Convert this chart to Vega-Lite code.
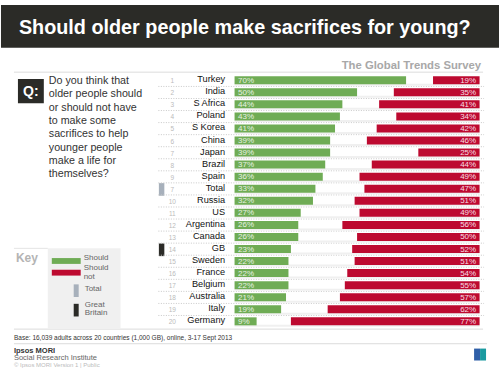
{"$schema":"https://vega.github.io/schema/vega-lite/v6.json","width":500,"height":375,"padding":0,"autosize":{"type":"fit","contains":"padding"},"background":"white","config":{"view":{"stroke":null},"axis":{"disable":true},"legend":{"disable":true},"text":{"font":"Liberation Sans"}},"datasets":{"rows":[
{"pos":1,"rank":"1","country":"Turkey","should":70,"unsure":11,"wouldNot":19},
{"pos":2,"rank":"2","country":"India","should":50,"unsure":15,"wouldNot":35},
{"pos":3,"rank":"3","country":"S Africa","should":44,"unsure":15,"wouldNot":41},
{"pos":4,"rank":"4","country":"Poland","should":43,"unsure":23,"wouldNot":34},
{"pos":5,"rank":"5","country":"S Korea","should":41,"unsure":17,"wouldNot":42},
{"pos":6,"rank":"6","country":"China","should":39,"unsure":15,"wouldNot":46},
{"pos":7,"rank":"7","country":"Japan","should":39,"unsure":36,"wouldNot":25},
{"pos":8,"rank":"8","country":"Brazil","should":37,"unsure":19,"wouldNot":44},
{"pos":9,"rank":"9","country":"Spain","should":36,"unsure":15,"wouldNot":49},
{"pos":10,"rank":"7","country":"Total","should":33,"unsure":20,"wouldNot":47},
{"pos":11,"rank":"10","country":"Russia","should":32,"unsure":17,"wouldNot":51},
{"pos":12,"rank":"11","country":"US","should":27,"unsure":24,"wouldNot":49},
{"pos":13,"rank":"12","country":"Argentina","should":26,"unsure":18,"wouldNot":56},
{"pos":14,"rank":"13","country":"Canada","should":26,"unsure":24,"wouldNot":50},
{"pos":15,"rank":"14","country":"GB","should":23,"unsure":25,"wouldNot":52},
{"pos":16,"rank":"15","country":"Sweden","should":22,"unsure":27,"wouldNot":51},
{"pos":17,"rank":"16","country":"France","should":22,"unsure":24,"wouldNot":54},
{"pos":18,"rank":"17","country":"Belgium","should":22,"unsure":23,"wouldNot":55},
{"pos":19,"rank":"18","country":"Australia","should":21,"unsure":22,"wouldNot":57},
{"pos":20,"rank":"19","country":"Italy","should":19,"unsure":19,"wouldNot":62},
{"pos":21,"rank":"20","country":"Germany","should":9,"unsure":14,"wouldNot":77}],
"one":[{}]},
"layer":[
{"data":{"name":"one"},"mark":{"type":"rect","color":"#2b2b27"},"encoding":{"x":{"datum":-95.33,"type":"quantitative","scale":{"domain":[-95.325,107.927],"nice":false,"zero":false}},"x2":{"datum":107.93},"y":{"datum":-5.24,"type":"quantitative","scale":{"domain":[-5.241,25.037],"nice":false,"zero":false,"reverse":true}},"y2":{"datum":-1.689}}},
{"data":{"name":"one"},"mark":{"type":"text","text":"Should older people make sacrifices for young?","align":"left","baseline":"middle","fontSize":19.8,"fontWeight":"bold","color":"#ffffff"},"encoding":{"x":{"datum":-88.01,"type":"quantitative"},"y":{"datum":-3.304,"type":"quantitative"}}},
{"data":{"name":"one"},"mark":{"type":"text","text":"The Global Trends Survey","align":"right","baseline":"middle","fontSize":11.3,"fontWeight":"bold","color":"#a8a8a8"},"encoding":{"x":{"datum":100.61,"type":"quantitative"},"y":{"datum":-0.155,"type":"quantitative"}}},
{"data":{"name":"one"},"mark":{"type":"rule","color":"#dcdcdc","strokeWidth":1},"encoding":{"x":{"datum":-90.04,"type":"quantitative"},"x2":{"datum":101.42},"y":{"datum":0.33,"type":"quantitative"}}},
{"data":{"name":"one"},"mark":{"type":"rule","color":"#dcdcdc","strokeWidth":1},"encoding":{"x":{"datum":-90.04,"type":"quantitative"},"x2":{"datum":101.42},"y":{"datum":21.646,"type":"quantitative"}}},
{"data":{"name":"one"},"mark":{"type":"rule","color":"#dcdcdc","strokeWidth":1},"encoding":{"x":{"datum":-90.04,"type":"quantitative"},"x2":{"datum":103.05},"y":{"datum":22.857,"type":"quantitative"}}},
{"data":{"name":"one"},"mark":{"type":"rect","color":"#2b2b27"},"encoding":{"x":{"datum":-88.41,"type":"quantitative"},"x2":{"datum":-77.85},"y":{"datum":0.895,"type":"quantitative"},"y2":{"datum":2.914}}},
{"data":{"name":"one"},"mark":{"type":"text","text":"Q:","align":"center","baseline":"middle","fontSize":14,"fontWeight":"bold","color":"#ffffff"},"encoding":{"x":{"datum":-83.13,"type":"quantitative"},"y":{"datum":1.95,"type":"quantitative"}}},
{"data":{"name":"one"},"mark":{"type":"text","text":"Do you think that\nolder people should\nor should not have\nto make some\nsacrifices to help\nyounger people\nmake a life for\nthemselves?","lineBreak":"\n","lineHeight":13.35,"align":"left","baseline":"top","fontSize":10.7,"color":"#333333","dy":-1},"encoding":{"x":{"datum":-75.81,"type":"quantitative"},"y":{"datum":0.734,"type":"quantitative"}}},
{"data":{"name":"one"},"mark":{"type":"rect","color":"#f0f0f0"},"encoding":{"x":{"datum":-76.22,"type":"quantitative"},"x2":{"datum":-46.54},"y":{"datum":14.944,"type":"quantitative"},"y2":{"datum":21.565}}},
{"data":{"name":"one"},"mark":{"type":"rule","color":"#e4e4e4","strokeWidth":1},"encoding":{"x":{"datum":-90.04,"type":"quantitative"},"x2":{"datum":-76.22},"y":{"datum":14.944,"type":"quantitative"}}},
{"data":{"name":"one"},"mark":{"type":"text","text":"Key","align":"left","baseline":"middle","fontSize":12,"fontWeight":"bold","color":"#b4b4b4"},"encoding":{"x":{"datum":-89.23,"type":"quantitative"},"y":{"datum":15.752,"type":"quantitative"}}},
{"data":{"name":"one"},"mark":{"type":"rect","color":"#6fac55"},"encoding":{"x":{"datum":-74.59,"type":"quantitative"},"x2":{"datum":-62.8},"y":{"datum":15.751,"type":"quantitative"},"y2":{"datum":16.236}}},
{"data":{"name":"one"},"mark":{"type":"rect","color":"#bd0a30"},"encoding":{"x":{"datum":-74.59,"type":"quantitative"},"x2":{"datum":-62.8},"y":{"datum":16.72,"type":"quantitative"},"y2":{"datum":17.205}}},
{"data":{"name":"one"},"mark":{"type":"rect","color":"#a7b0bb"},"encoding":{"x":{"datum":-65.65,"type":"quantitative"},"x2":{"datum":-63.62},"y":{"datum":17.932,"type":"quantitative"},"y2":{"datum":18.982}}},
{"data":{"name":"one"},"mark":{"type":"rect","color":"#2b2b27"},"encoding":{"x":{"datum":-65.65,"type":"quantitative"},"x2":{"datum":-63.62},"y":{"datum":19.547,"type":"quantitative"},"y2":{"datum":20.597}}},
{"data":{"name":"one"},"mark":{"type":"text","text":"Should","align":"left","baseline":"middle","fontSize":8,"color":"#666666"},"encoding":{"x":{"datum":-61.59,"type":"quantitative"},"y":{"datum":15.712,"type":"quantitative"}}},
{"data":{"name":"one"},"mark":{"type":"text","text":"Should\nnot","lineBreak":"\n","lineHeight":9,"align":"left","baseline":"top","fontSize":8,"color":"#666666"},"encoding":{"x":{"datum":-61.59,"type":"quantitative"},"y":{"datum":16.236,"type":"quantitative"}}},
{"data":{"name":"one"},"mark":{"type":"text","text":"Total","align":"left","baseline":"middle","fontSize":8,"color":"#666666"},"encoding":{"x":{"datum":-61.18,"type":"quantitative"},"y":{"datum":18.33,"type":"quantitative"}}},
{"data":{"name":"one"},"mark":{"type":"text","text":"Great\nBritain","lineBreak":"\n","lineHeight":8.5,"align":"left","baseline":"top","fontSize":8,"color":"#666666"},"encoding":{"x":{"datum":-61.18,"type":"quantitative"},"y":{"datum":19.3,"type":"quantitative"}}},
{"data":{"name":"one"},"mark":{"type":"text","text":"Base: 16,039 adults across 20 countries (1,000 GB), online, 3-17 Sept 2013","align":"left","baseline":"middle","fontSize":6.5,"color":"#333333"},"encoding":{"x":{"datum":-90.04,"type":"quantitative"},"y":{"datum":22.373,"type":"quantitative"}}},
{"data":{"name":"one"},"mark":{"type":"text","text":"Ipsos MORI","align":"left","baseline":"middle","fontSize":7.5,"fontWeight":"bold","color":"#333333"},"encoding":{"x":{"datum":-90.04,"type":"quantitative"},"y":{"datum":23.423,"type":"quantitative"}}},
{"data":{"name":"one"},"mark":{"type":"text","text":"Social Research Institute","align":"left","baseline":"middle","fontSize":7.5,"color":"#666666"},"encoding":{"x":{"datum":-90.04,"type":"quantitative"},"y":{"datum":24.069,"type":"quantitative"}}},
{"data":{"name":"one"},"mark":{"type":"text","text":"© Ipsos MORI   Version 1 | Public","align":"left","baseline":"middle","fontSize":6,"color":"#bbbbbb"},"encoding":{"x":{"datum":-90.04,"type":"quantitative"},"y":{"datum":24.634,"type":"quantitative"}}},
{"data":{"name":"one"},"mark":{"type":"rect","color":"#2f5fa8"},"encoding":{"x":{"datum":97.76,"type":"quantitative"},"x2":{"datum":100.2},"y":{"datum":23.26,"type":"quantitative"},"y2":{"datum":24.25}}},
{"data":{"name":"one"},"mark":{"type":"rect","color":"#1a9aa0"},"encoding":{"x":{"datum":100.2,"type":"quantitative"},"x2":{"datum":102.64},"y":{"datum":23.26,"type":"quantitative"},"y2":{"datum":24.25}}},
{"data":{"name":"one"},"mark":{"type":"rect","color":"#a7b0bb"},"encoding":{"x":{"datum":-30.89,"type":"quantitative"},"x2":{"datum":-28.66},"y":{"datum":9.534,"type":"quantitative"},"y2":{"datum":10.584}}},
{"data":{"name":"one"},"mark":{"type":"rect","color":"#2b2b27"},"encoding":{"x":{"datum":-30.89,"type":"quantitative"},"x2":{"datum":-28.66},"y":{"datum":14.541,"type":"quantitative"},"y2":{"datum":15.59}}},
{"data":{"name":"rows"},"transform":[{"filter":"datum.pos < 21"}],"mark":{"type":"rule","color":"#c8c8c8","strokeWidth":1,"strokeDash":[1,1.5],"yOffset":6.2},"encoding":{"x":{"datum":-31.1,"type":"quantitative"},"x2":{"datum":101.83},"y":{"field":"pos","type":"quantitative"}}},
{"data":{"name":"rows"},"mark":{"type":"rule","color":"#f0f0f0","strokeWidth":2,"yOffset":4.5},"encoding":{"x":{"datum":0,"type":"quantitative"},"x2":{"datum":100},"y":{"field":"pos","type":"quantitative"}}},
{"data":{"name":"rows"},"transform":[{"fold":["should","unsure","wouldNot"],"as":["answer","share"]}],"mark":{"type":"bar","orient":"horizontal","size":8},"encoding":{"x":{"field":"share","type":"quantitative","stack":"zero"},"y":{"field":"pos","type":"quantitative"},"color":{"field":"answer","type":"nominal","scale":{"domain":["should","unsure","wouldNot"],"range":["#6fac55","transparent","#bd0a30"]}},"order":{"field":"answer"}}},
{"data":{"name":"rows"},"mark":{"type":"text","align":"right","baseline":"middle","fontSize":9.2,"color":"#111111","dy":-1},"encoding":{"x":{"datum":-3.86,"type":"quantitative"},"y":{"field":"pos","type":"quantitative"},"text":{"field":"country"}}},
{"data":{"name":"rows"},"mark":{"type":"text","align":"center","baseline":"middle","fontSize":6.5,"color":"#bbbbbb","dy":1},"encoding":{"x":{"datum":-25.41,"type":"quantitative"},"y":{"field":"pos","type":"quantitative"},"text":{"field":"rank"}}},
{"data":{"name":"rows"},"transform":[{"calculate":"datum.should + '%'","as":"shouldLabel"}],"mark":{"type":"text","align":"left","baseline":"middle","fontSize":8,"color":"#e8f2e2","dy":0.5},"encoding":{"x":{"datum":1.4,"type":"quantitative"},"y":{"field":"pos","type":"quantitative"},"text":{"field":"shouldLabel"}}},
{"data":{"name":"rows"},"transform":[{"calculate":"datum.wouldNot + '%'","as":"notLabel"}],"mark":{"type":"text","align":"right","baseline":"middle","fontSize":8,"color":"#f7dfe4","dy":0.5},"encoding":{"x":{"datum":98.6,"type":"quantitative"},"y":{"field":"pos","type":"quantitative"},"text":{"field":"notLabel"}}}
]}
